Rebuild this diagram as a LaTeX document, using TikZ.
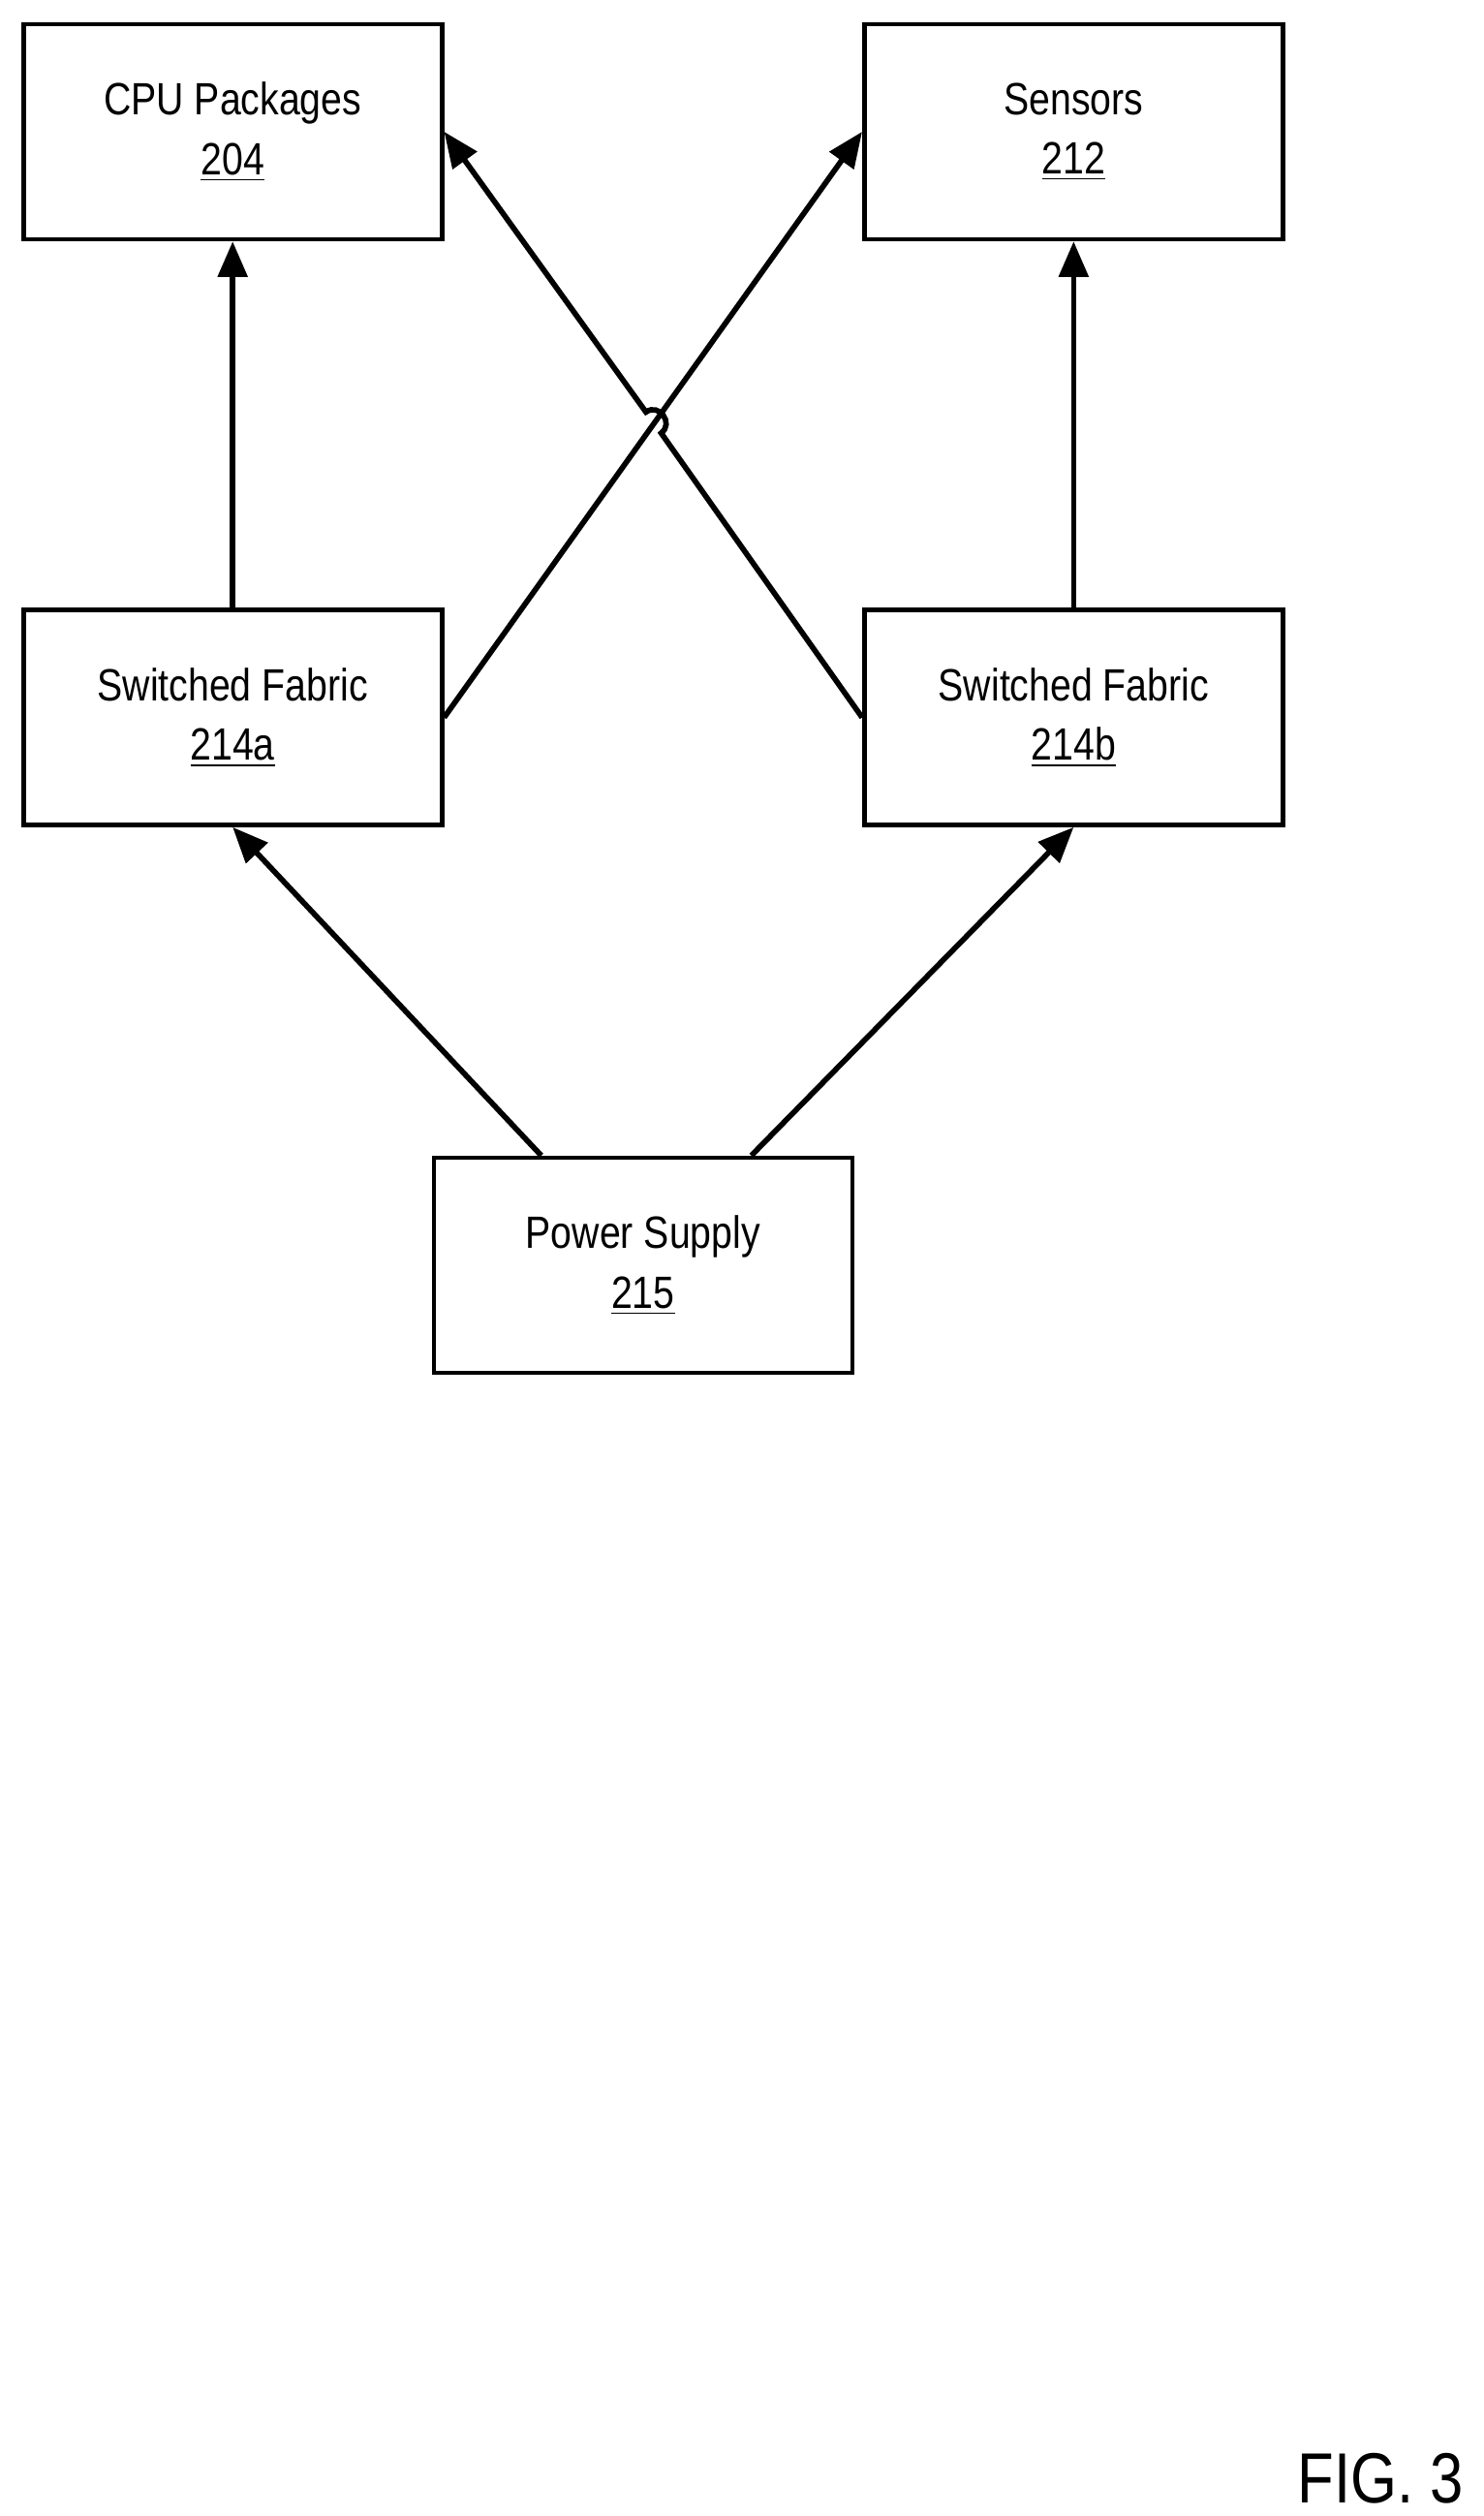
\documentclass[tikz,border=0pt]{standalone}
\usepackage{fontspec}
\setmainfont[FakeStretch=0.84]{Liberation Sans}
\usetikzlibrary{arrows.meta,calc}
\begin{document}
\begin{tikzpicture}[x=0.5pt,y=-0.5pt,
  box/.style={draw,line width=1.4pt,minimum width=129.5pt,minimum height=66.5pt,align=center,font=\fontsize{14}{18.5}\selectfont,inner sep=0pt},
  arr/.style={line width=1.7pt,-{Triangle[length=11pt,width=9pt]}}]
\useasboundingbox (0,0) rectangle (918,1557);
\node[box] (cpu) at (144,81.5) {CPU Packages\\\underline{204}};
\node[box] (sen) at (664.5,81.5) {Sensors\\\underline{212}};
\node[box] (sfa) at (144,444) {Switched Fabric\\\underline{214a}};
\node[box] (sfb) at (664.5,444) {Switched Fabric\\\underline{214b}};
\node[box] (pow) at (398,783) {Power Supply\\\underline{215}};
\node[anchor=base east,font=\fontsize{22}{26}\selectfont] (fig) at (913,1549) {FIG. 3};
\draw[arr] (sfa.north) -- (cpu.south);
\draw[arr] (sfb.north) -- (sen.south);
\draw[arr] (sfa.east) -- (sen.west);
\coordinate (h1) at (409.2,268.0);
\coordinate (h2) at (399.8,255.0);
\draw[arr] (sfb.west) -- (h1) .. controls ($(h1)+(8.1,-5.9)$) and ($(h2)+(8.1,-5.9)$) .. (h2) -- (cpu.east);
\draw[arr] ($(pow.north)+(-63,0)$) -- (sfa.south);
\draw[arr] ($(pow.north)+(67,0)$) -- (sfb.south);
\end{tikzpicture}
\end{document}
